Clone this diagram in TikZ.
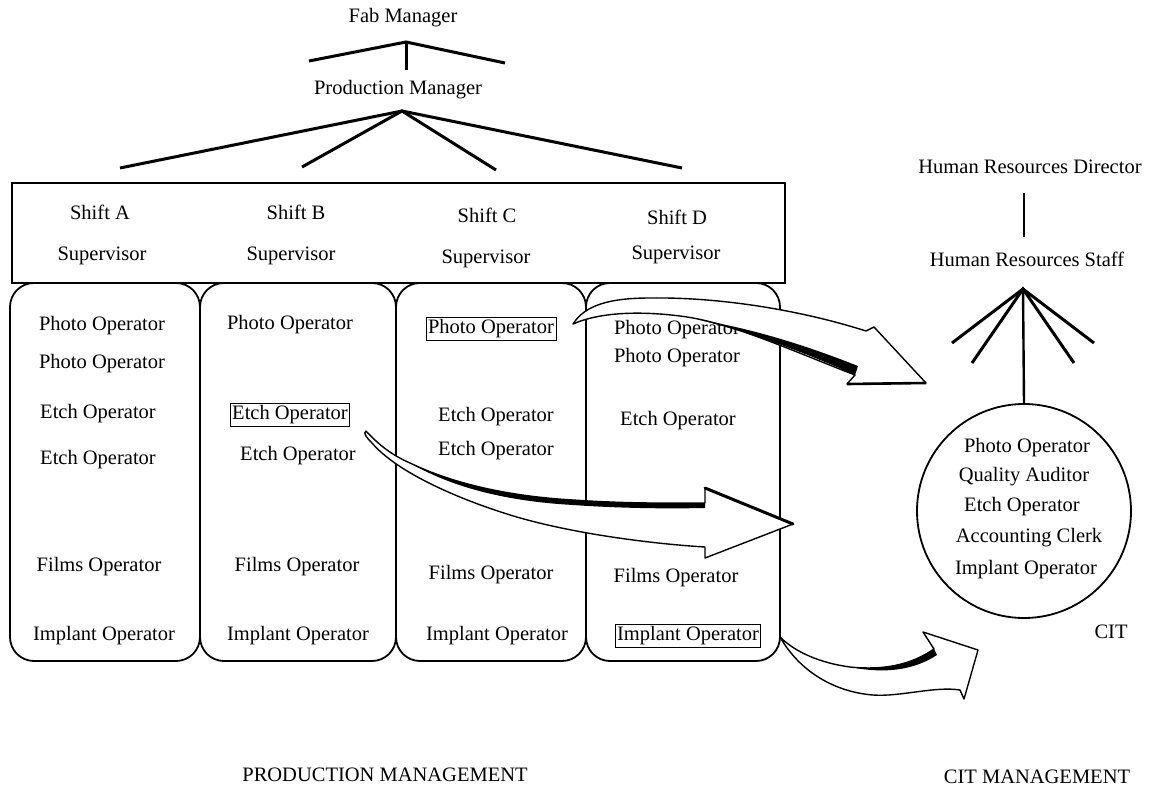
\documentclass[tikz,border=0pt]{standalone}
\usepackage{fontspec}
\setmainfont{Liberation Serif}
\begin{document}
\begin{tikzpicture}[x=1pt,y=-1pt,
  lbl/.style={font=\fontsize{20.5}{24}\selectfont, inner sep=0pt},
  boxed/.style={lbl, draw, line width=0.8pt, inner sep=2pt},
  orgline/.style={line width=3pt},
  colbox/.style={draw, line width=1.8pt, rounded corners=24pt, minimum width=#1, minimum height=378pt, inner sep=0pt},
  blockarrow/.style={fill=white, draw, line width=1.4pt, line join=round},
  shade/.style={fill=black}]
\useasboundingbox (0,0) rectangle (1151,792);
\fill[white] (0,0) rectangle (1151,792);

% top hierarchy
\node[lbl] (fab) at (403,18) {Fab Manager};
\coordinate (fabL) at (309,61);
\coordinate (fabA) at (406,42);
\coordinate (fabR) at (505,63);
\coordinate (fabB) at (406,70);
\draw[orgline] (fabL) -- (fabA) -- (fabR);
\draw[orgline] (fabA) -- (fabB);
\node[lbl] (pm) at (398,90) {Production Manager};
\coordinate (pmA) at (402,111);
\coordinate (pm1) at (120,168);
\coordinate (pm2) at (302,167);
\coordinate (pm3) at (496,170);
\coordinate (pm4) at (682,168);
\draw[orgline] (pm1) -- (pmA) -- (pm4);
\draw[orgline] (pm2) -- (pmA) -- (pm3);

% supervisor box
\node[draw, line width=1.8pt, minimum width=773pt, minimum height=100pt, inner sep=0pt] (sup) at (398.5,233) {};
\node[lbl] (sa) at (100,212) {Shift A};
\node[lbl] (sva) at (102,256) {Supervisor};
\node[lbl] (sb) at (296,212) {Shift B};
\node[lbl] (svb) at (291,256) {Supervisor};
\node[lbl] (sc) at (487,215) {Shift C};
\node[lbl] (svc) at (486,259) {Supervisor};
\node[lbl] (sd) at (677,217) {Shift D};
\node[lbl] (svd) at (676,255) {Supervisor};

% shift columns
\node[colbox=190pt] (colA) at (105,472) {};
\node[colbox=196pt] (colB) at (298,472) {};
\node[colbox=190pt] (colC) at (491,472) {};
\node[colbox=194pt] (colD) at (683,472) {};

% column A
\node[lbl] (a1) at (102,326) {Photo Operator};
\node[lbl] (a2) at (102,364) {Photo Operator};
\node[lbl] (a3) at (98,414) {Etch Operator};
\node[lbl] (a4) at (98,460) {Etch Operator};
\node[lbl] (a5) at (99,567) {Films Operator};
\node[lbl] (a6) at (104,636) {Implant Operator};
% column B
\node[lbl] (b1) at (290,325) {Photo Operator};
\node[boxed] (b2) at (290,415) {Etch Operator};
\node[lbl] (b3) at (298,456) {Etch Operator};
\node[lbl] (b4) at (297,567) {Films Operator};
\node[lbl] (b5) at (298,636) {Implant Operator};
% column C
\node[boxed] (c1) at (491,329) {Photo Operator};
\node[lbl] (c2) at (496,417) {Etch Operator};
\node[lbl] (c3) at (496,451) {Etch Operator};
\node[lbl] (c4) at (491,575) {Films Operator};
\node[lbl] (c5) at (497,636) {Implant Operator};
% column D
\node[lbl] (d1) at (677,330) {Photo Operator};
\node[lbl] (d2) at (677,358) {Photo Operator};
\node[lbl] (d3) at (678,421) {Etch Operator};
\node[lbl] (d4) at (676,578) {Films Operator};
\node[boxed] (d5) at (688,636) {Implant Operator};

% HR side
\node[lbl] (hrd) at (1030,167) {Human Resources Director};
\coordinate (hrdB) at (1024,193);
\coordinate (hrsT) at (1024,237);
\draw[line width=2.4pt] (hrdB) -- (hrsT);
\node[lbl] (hrs) at (1027,259) {Human Resources Staff};
\node[draw, circle, line width=1.8pt, minimum size=214pt, inner sep=0pt] (cit) at (1024,511) {};
\coordinate (fanA) at (1023,289);
\coordinate (f1) at (952,343);
\coordinate (f2) at (972,363);
\coordinate (f4) at (1074,363);
\coordinate (f5) at (1094,343);
\draw[orgline] (f1) -- (fanA) -- (f5);
\draw[orgline] (f2) -- (fanA) -- (f4);
\draw[line width=2.4pt] (fanA) -- (cit.north);
\node[lbl] (ci1) at (1027,448) {Photo Operator};
\node[lbl] (ci2) at (1024,477) {Quality Auditor};
\node[lbl] (ci3) at (1022,507) {Etch Operator};
\node[lbl] (ci4) at (1029,538) {Accounting Clerk};
\node[lbl] (ci5) at (1026,570) {Implant Operator};
\node[lbl] (citl) at (1111,632) {CIT};

% arrow 1 : Photo Operator (C) -> HR
\filldraw[blockarrow] (573,324) .. controls (585,305) and (610,298) .. (650,298)
  .. controls (720,297) and (800,310) .. (866,331) -- (874,327) -- (926,383) -- (847,384) -- (855,375)
  .. controls (790,350) and (730,322) .. (680,316)
  .. controls (640,311) and (600,312) .. (573,324) -- cycle;
\fill[shade] (700,320) .. controls (760,335) and (815,357) .. (855,375) -- (858,366)
  .. controls (815,349) and (760,330) .. (700,320) -- cycle;
\draw[line width=2.6pt] (847,384) -- (926,383);

% arrow 2 : Etch Operator (B) -> CIT
\filldraw[blockarrow] (366,431) .. controls (380,446) and (392,455) .. (410,463)
  .. controls (460,487) and (520,497) .. (573,500)
  .. controls (630,504) and (680,503) .. (705,503) -- (705,488) -- (793,524) -- (705,558) -- (705,547)
  .. controls (640,543) and (560,531) .. (507,514)
  .. controls (450,496) and (395,470) .. (372,443)
  .. controls (366,437) and (363,433) .. (366,431) -- cycle;
\fill[shade] (410,463) .. controls (460,487) and (520,497) .. (573,500)
  .. controls (630,504) and (680,503) .. (705,503) -- (705,508)
  .. controls (680,508.5) and (630,509) .. (573,505)
  .. controls (520,502) and (460,492) .. (410,463) -- cycle;
\draw[line width=3pt, line cap=round] (705,488) -- (793,524);

% arrow 3 : Implant Operator (D) -> CIT management
\filldraw[blockarrow] (780,637) .. controls (795,652) and (820,663) .. (850,667)
  .. controls (890,671) and (915,662) .. (934,649) -- (923,632) -- (978,650) -- (964,699) -- (960,690)
  .. controls (935,686) and (900,697) .. (873,695)
  .. controls (835,692) and (800,672) .. (780,637) -- cycle;
\fill[shade] (850,667) .. controls (890,671) and (915,662) .. (934,649) -- (937,655)
  .. controls (917,668) and (890,675) .. (850,667) -- cycle;

% bottom captions
\node[lbl] (prodm) at (385,775) {PRODUCTION MANAGEMENT};
\node[lbl] (citm) at (1037,777) {CIT MANAGEMENT};
\end{tikzpicture}
\end{document}
